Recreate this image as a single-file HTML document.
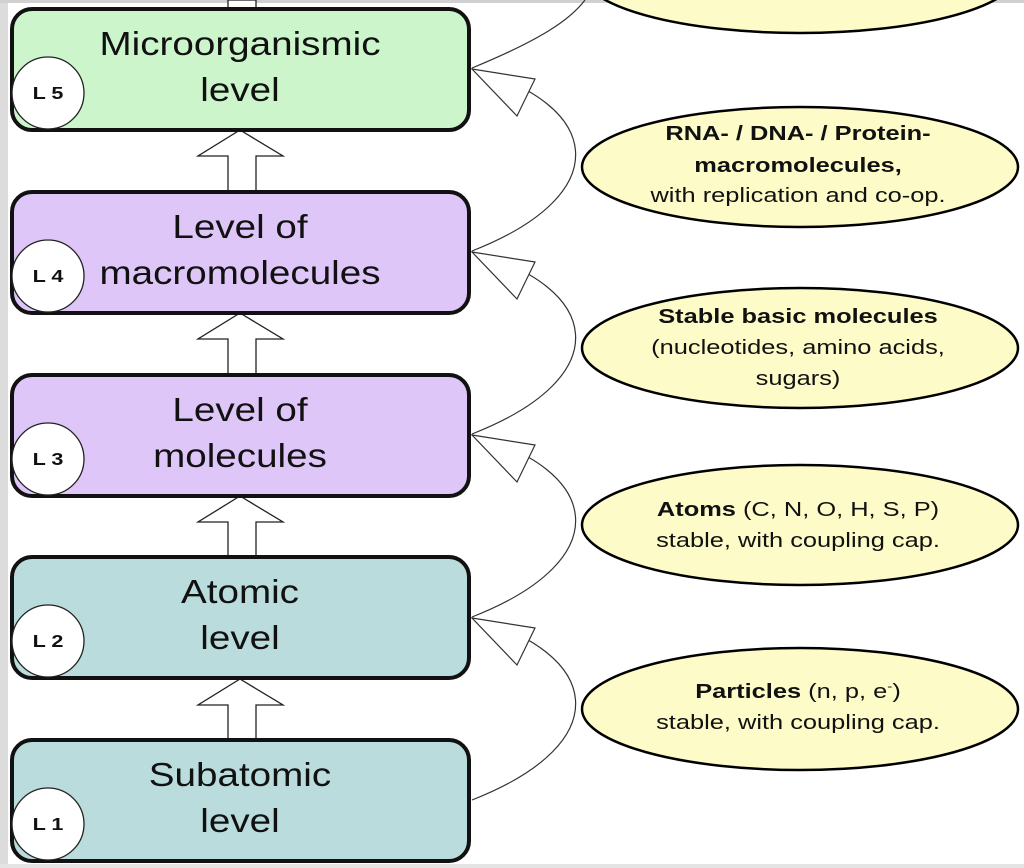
<!DOCTYPE html>
<html><head><meta charset="utf-8"><style>
html,body{margin:0;padding:0;background:#fff;}
svg{display:block;}
text{font-family:"Liberation Sans",Arial,sans-serif;}
</style></head><body>
<svg width="1024" height="868" viewBox="0 0 1024 868" xmlns="http://www.w3.org/2000/svg">
<rect x="0" y="0" width="1024" height="868" fill="#fff"/>
<rect x="0" y="0" width="8" height="868" fill="#dcdcdc"/>
<rect x="0" y="0" width="1024" height="3" fill="#d0d0d0"/>
<rect x="0" y="864" width="1024" height="4" fill="#e4e4e4"/>

<g fill="#fdfbc8" stroke="#000" stroke-width="2.5">
<ellipse cx="800" cy="-27" rx="218" ry="60"/>
<ellipse cx="800" cy="167" rx="218" ry="60"/>
<ellipse cx="800" cy="348" rx="218" ry="60"/>
<ellipse cx="800" cy="525" rx="218" ry="60"/>
<ellipse cx="800" cy="709" rx="218" ry="61"/>
</g>

<g fill="none" stroke="#333" stroke-width="1.2">
<path d="M472,800 C620,742 600,652 472,618"/>
<path d="M472,617 C620,559 600,469 472,435"/>
<path d="M472,434 C620,376 600,286 472,252"/>
<path d="M472,251 C620,193 600,103 472,69"/>
<path d="M472,68 C540,40 570,20 585,0"/>
</g>
<g fill="#fff" stroke="#333" stroke-width="1.2">
<polygon points="472,618 535,628 517,665"/>
<polygon points="472,435 535,445 517,482"/>
<polygon points="472,252 535,262 517,299"/>
<polygon points="472,69 535,79 517,116"/>
</g>

<g fill="#fff" stroke="#222" stroke-width="1.3">
<polygon points="240,130 283,156 256,156 256,191 228,191 228,156 198,156"/>
<polygon points="240,313 283,339 256,339 256,374 228,374 228,339 198,339"/>
<polygon points="240,496 283,522 256,522 256,557 228,557 228,522 198,522"/>
<polygon points="240,679 283,705 256,705 256,740 228,740 228,705 198,705"/>
<rect x="228" y="0" width="28" height="8"/>
</g>

<g stroke="#111" stroke-width="4">
<rect x="12" y="9" width="457" height="121" rx="20" fill="#ccf5cc"/>
<rect x="12" y="192" width="457" height="121" rx="20" fill="#dfc6f8"/>
<rect x="12" y="375" width="457" height="121" rx="20" fill="#dfc6f8"/>
<rect x="12" y="557" width="457" height="121" rx="20" fill="#badcdc"/>
<rect x="12" y="740" width="457" height="121" rx="20" fill="#badcdc"/>
</g>

<g fill="#fff" stroke="#222" stroke-width="1.3">
<circle cx="48" cy="93" r="36"/>
<circle cx="48" cy="276" r="36"/>
<circle cx="48" cy="459" r="36"/>
<circle cx="48" cy="641" r="36"/>
<circle cx="48" cy="824" r="36"/>
</g>
<g font-size="18" font-weight="bold" text-anchor="middle" fill="#111" transform="translate(48,0) scale(1.2,1)">
<text x="0" y="99">L 5</text>
<text x="0" y="282">L 4</text>
<text x="0" y="465">L 3</text>
<text x="0" y="647">L 2</text>
<text x="0" y="830">L 1</text>
</g>

<g font-size="33" text-anchor="middle" fill="#111" transform="translate(240,0) scale(1.17,1)">
<text x="0" y="55">Microorganismic</text>
<text x="0" y="101">level</text>
<text x="0" y="238">Level of</text>
<text x="0" y="284">macromolecules</text>
<text x="0" y="421">Level of</text>
<text x="0" y="467">molecules</text>
<text x="0" y="603">Atomic</text>
<text x="0" y="649">level</text>
<text x="0" y="786">Subatomic</text>
<text x="0" y="832">level</text>
</g>

<g font-size="20" text-anchor="middle" fill="#111" transform="translate(798,0) scale(1.27,1)">
<text x="0" y="140" font-weight="bold">RNA- / DNA- / Protein-</text>
<text x="0" y="172" font-weight="bold">macromolecules,</text>
<text x="0" y="202">with replication and co-op.</text>
<text x="0" y="323" font-weight="bold">Stable basic molecules</text>
<text x="0" y="354">(nucleotides, amino acids,</text>
<text x="0" y="385">sugars)</text>
<text x="0" y="516"><tspan font-weight="bold">Atoms</tspan> (C, N, O, H, S, P)</text>
<text x="0" y="547">stable, with coupling cap.</text>
<text x="0" y="698"><tspan font-weight="bold">Particles</tspan> (n, p, e<tspan dy="-8" font-size="12">-</tspan><tspan dy="8">)</tspan></text>
<text x="0" y="729">stable, with coupling cap.</text>
</g>
</svg>
</body></html>
